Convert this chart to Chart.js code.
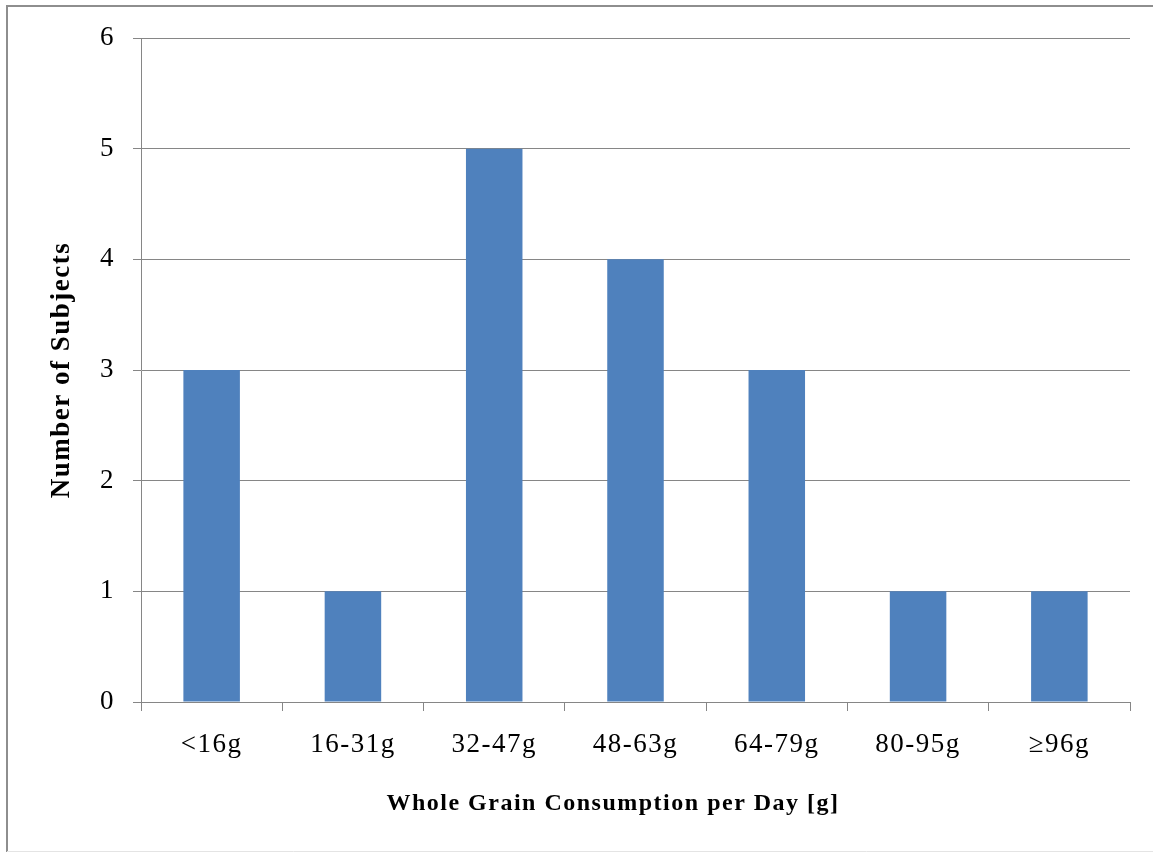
<!DOCTYPE html>
<html>
<head>
<meta charset="utf-8">
<script src="https://cdn.jsdelivr.net/npm/chart.js@4/dist/chart.umd.min.js"></script>
<style>
  html, body { margin: 0; padding: 0; background: #ffffff; }
  #wrap { position: relative; width: 1153px; height: 854px; }
  canvas { display: block; }
</style>
</head>
<body>
<div id="wrap"><canvas id="c" width="1153" height="854"></canvas></div>
<script>
// Whole grain intake groups and how many subjects fall in each
const categories = ['<16g', '16-31g', '32-47g', '48-63g', '64-79g', '80-95g', '\u226596g'];
const subjects = [3, 1, 5, 4, 3, 1, 1];
const yTicks = [0, 1, 2, 3, 4, 5, 6];

const gridGray = '#868686';
const serif = '"Liberation Serif", "Times New Roman", serif';
// trailing no-break spaces nudge the centred axis title a little to the left
const xTitle = 'Whole Grain Consumption per Day [g]' + '\u00a0'.repeat(6);

// Widen glyph spacing for the serif text and draw the outer frame
const frameAndSpacing = {
  id: 'frameAndSpacing',
  beforeUpdate(chart) { chart.ctx.letterSpacing = '1.5px'; },
  beforeLayout(chart) { chart.ctx.letterSpacing = '1.5px'; },
  beforeDraw(chart) {
    const ctx = chart.ctx;
    ctx.letterSpacing = '1.5px';
    ctx.save();
    ctx.fillStyle = '#ffffff';
    ctx.fillRect(0, 0, chart.width, chart.height);
    ctx.strokeStyle = '#8e8e8e';
    ctx.lineWidth = 2;
    ctx.beginPath();
    ctx.moveTo(7, 852);
    ctx.lineTo(7, 6);
    ctx.lineTo(chart.width + 2, 6);
    ctx.stroke();
    ctx.strokeStyle = '#e4e4e4';
    ctx.lineWidth = 1;
    ctx.beginPath();
    ctx.moveTo(7, 851.5);
    ctx.lineTo(chart.width, 851.5);
    ctx.stroke();
    ctx.restore();
  }
};

new Chart(document.getElementById('c'), {
  type: 'bar',
  data: {
    labels: categories,
    datasets: [{
      data: subjects,
      backgroundColor: '#4f81bd',
      borderWidth: 0,
      barPercentage: 0.4,
      categoryPercentage: 1.0
    }]
  },
  options: {
    responsive: false,
    animation: false,
    devicePixelRatio: 1,
    layout: { padding: { left: 0, top: 38, right: 23, bottom: 0 } },
    plugins: {
      legend: { display: false },
      tooltip: { enabled: false }
    },
    scales: {
      x: {
        grid: {
          display: true,
          offset: true,
          drawOnChartArea: false,
          drawTicks: true,
          tickLength: 9,
          color: gridGray,
          lineWidth: 1
        },
        border: { display: true, color: gridGray, width: 1 },
        ticks: {
          color: '#000000',
          font: { family: serif, size: 27 },
          padding: 18,
          maxRotation: 0,
          autoSkip: false
        },
        title: {
          display: true,
          text: xTitle,
          color: '#000000',
          font: { family: serif, size: 24, weight: 'bold' },
          padding: { top: 0, bottom: 36 }
        },
        afterFit(scale) { scale.height = 152; }
      },
      y: {
        min: 0,
        max: 6,
        afterBuildTicks(scale) { scale.ticks = yTicks.map(v => ({ value: v })); },
        grid: {
          color: gridGray,
          lineWidth: 1,
          drawTicks: true,
          tickLength: 8
        },
        border: { display: true, color: gridGray, width: 1 },
        ticks: {
          color: '#000000',
          font: { family: serif, size: 27 },
          padding: 18
        },
        title: {
          display: true,
          text: 'Number of Subjects',
          color: '#000000',
          font: { family: serif, size: 27, weight: 'bold' },
          padding: { top: 46, bottom: 0 }
        },
        afterFit(scale) { scale.width = 141; }
      }
    }
  },
  plugins: [frameAndSpacing]
});
</script>
</body>
</html>
